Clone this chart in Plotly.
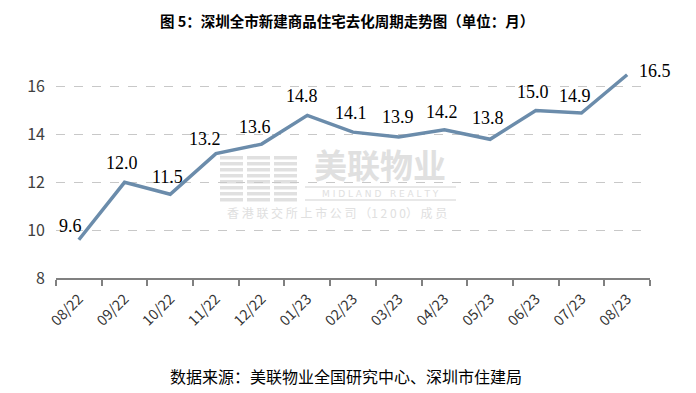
import plotly.graph_objects as go

months = ["08/22", "09/22", "10/22", "11/22", "12/22", "01/23", "02/23",
          "03/23", "04/23", "05/23", "06/23", "07/23", "08/23"]
cycle = [9.6, 12.0, 11.5, 13.2, 13.6, 14.8, 14.1, 13.9, 14.2, 13.8, 15.0, 14.9, 16.5]

# label offsets in pixels (dx, dy upward)
label_dx = [-8, -3, -3, -11, -7, -5, -2, -1, -2, -2, -3, -6, 28]
label_dy = [14, 19, 17, 15, 17, 19, 19, 20, 18, 21, 19, 17, 4]

W, H = 696, 393
L, R, T, B = 56, 46, 58, 115
pw, ph = W - L - R, H - T - B

def px(x):
    return (x - L) / pw

def py(y):
    return (H - B - y) / ph

fig = go.Figure()
fig.add_trace(go.Scatter(
    x=months, y=cycle, mode="lines",
    line=dict(color="#6b8cab", width=3.5),
    hoverinfo="skip", showlegend=False,
))

annotations = []
for m, v, dx, dy in zip(months, cycle, label_dx, label_dy):
    annotations.append(dict(
        x=m, y=v, xref="x", yref="y", text=f"{v:.1f}", showarrow=False,
        xanchor="center", yanchor="middle", xshift=dx, yshift=dy,
        font=dict(family="Liberation Serif, Times New Roman, serif", size=18, color="#000000")))

shapes = []
wm = "#e0e0e0"
cols = [(220, 243), (247, 270), (274, 297)]
for yy in range(156, 200, 6):
    for (x0, x1) in cols:
        shapes.append(dict(type="rect", xref="paper", yref="paper",
                           x0=px(x0), x1=px(x1), y0=py(yy + 3.5), y1=py(yy),
                           fillcolor=wm, line=dict(width=0), layer="below"))
shapes.append(dict(type="line", xref="paper", yref="paper", x0=px(305), x1=px(456),
                   y0=py(187), y1=py(187), line=dict(color=wm, width=1.5), layer="below"))
shapes.append(dict(type="line", xref="paper", yref="paper", x0=px(305), x1=px(456),
                   y0=py(200), y1=py(200), line=dict(color=wm, width=1.5), layer="below"))

def ann(text, x, y, size, color, family="Noto Sans CJK SC"):
    return dict(text=text, xref="paper", yref="paper", x=px(x), y=py(y),
                xanchor="center", yanchor="middle", showarrow=False,
                font=dict(family=family, size=size, color=color))

annotations += [
    ann("<b>美联物业</b>", 380, 164, 33, wm),
    ann("M I D L A N D   R E A L T Y", 380, 194, 9, wm, "DejaVu Sans"),
    ann("香 港 联 交 所 上 市 公 司 （1 2 0 0） 成 员", 337, 212, 12, wm),
    ann("<b>图 5：深圳全市新建商品住宅去化周期走势图（单位：月）</b>", 347, 20, 14.5, "#000000"),
    ann("数据来源：美联物业全国研究中心、深圳市住建局", 346, 376, 16, "#000000"),
]

fig.update_layout(
    width=W, height=H, margin=dict(l=L, r=R, t=T, b=B),
    paper_bgcolor="white", plot_bgcolor="white",
    shapes=shapes, annotations=annotations,
    xaxis=dict(type="category", range=[-0.5, len(months) - 0.5], tickangle=-45,
               showgrid=False, showline=True, automargin=False,
               linecolor="#808080", linewidth=1.5, ticks="outside", tickson="boundaries",
               ticklen=6, tickcolor="#808080", tickwidth=1.5, ticklabelstandoff=5,
               tickfont=dict(family="Noto Sans CJK SC", size=14.5, color="#333333")),
    yaxis=dict(range=[8, 17.2], tickvals=[8, 10, 12, 14, 16], showline=False,
               automargin=False,
               showgrid=True, gridcolor="#c8c8c8", griddash="dash", gridwidth=1,
               zeroline=False, ticks="", ticklabelstandoff=10,
               tickfont=dict(family="Noto Sans CJK SC", size=16, color="#404040")),
)

fig.write_html("out.html", config={"displayModeBar": False},
               post_script="document.body.style.margin='0';")
